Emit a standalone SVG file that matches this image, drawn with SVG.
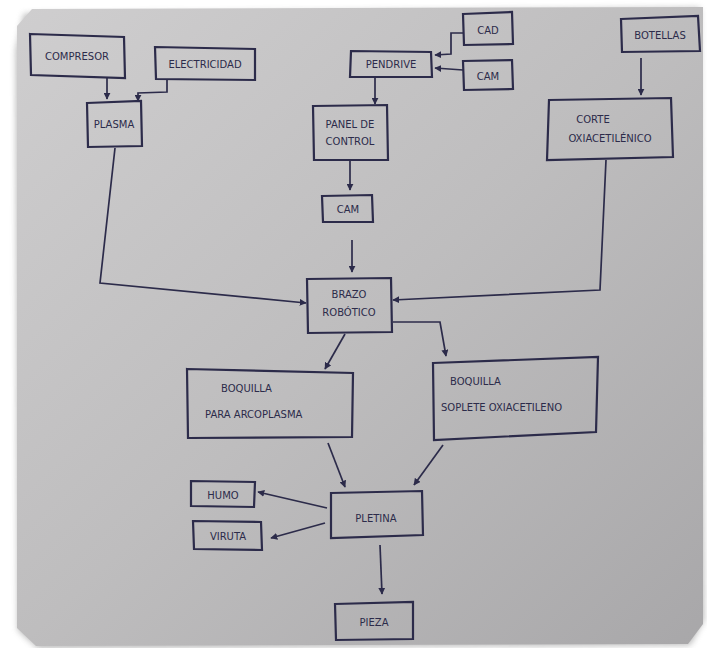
<svg xmlns="http://www.w3.org/2000/svg" width="707" height="648" viewBox="0 0 707 648">
<defs>
<linearGradient id="paper" x1="0" y1="0" x2="1" y2="1">
<stop offset="0" stop-color="#cfcecf"/>
<stop offset="0.5" stop-color="#bebdbe"/>
<stop offset="1" stop-color="#a8a7a9"/>
</linearGradient>
<filter id="sh" x="-5%" y="-5%" width="110%" height="110%">
<feGaussianBlur stdDeviation="3"/>
</filter>
<marker id="ah" viewBox="0 0 10 10" refX="9" refY="5" markerWidth="7" markerHeight="7" orient="auto-start-reverse" markerUnits="userSpaceOnUse">
<path d="M0,0 L10,5 L0,10 z" fill="#2c2b4a"/>
</marker>
</defs>
<style>
.box{fill:none;stroke:#2c2b4a;stroke-width:2.2}
.t{font-family:"DejaVu Sans",sans-serif;fill:#2c2b4a;font-size:10px}
.m{text-anchor:middle}
.s{text-anchor:start}
.c{fill:none;stroke:#2c2b4a;stroke-width:1.7;marker-end:url(#ah)}
</style>
<rect width="707" height="648" fill="#ffffff"/>
<path d="M24,14 L700,8 L704,620 L690,645 L38,648 L18,630 L16,50 Z" fill="#888" filter="url(#sh)" opacity="0.6"/>
<path d="M32,9 L703,7 L703,624 L688,644 L36,646 L17,628 L17,26 Z" fill="url(#paper)"/>

<g id="connectors">
<path class="c" d="M107,78 L107,99"/>
<path class="c" d="M167,80 L167,92 L138,93 L138,101"/>
<path class="c" d="M463,33 L451,33 L451,54 L435,55"/>
<path class="c" d="M463,70 L435,68"/>
<path class="c" d="M641,58 L641,95"/>
<path class="c" d="M375,77 L375,104"/>
<path class="c" d="M350,161 L350,190"/>
<path class="c" d="M352,240 L352,272"/>
<path class="c" d="M115,148 L100,283 L306,303"/>
<path class="c" d="M606,160 L600,290 L393,300"/>
<path class="c" d="M345,334 L325,369"/>
<path class="c" d="M393,322 L440,322 L446,356"/>
<path class="c" d="M328,443 L345,487"/>
<path class="c" d="M443,445 L414,485"/>
<path class="c" d="M327,508 L258,492"/>
<path class="c" d="M325,523 L271,538"/>
<path class="c" d="M380,545 L382,594"/>
</g>

<g id="compresor"><path class="box" d="M30,34 L124,37 L125,78 L31,75 Z"/><text class="t m" x="77" y="60">COMPRESOR</text></g>
<g id="electricidad"><path class="box" d="M155,47 L255,49 L255,80 L156,79 Z"/><text class="t m" x="205" y="68">ELECTRICIDAD</text></g>
<g id="plasma"><path class="box" d="M87,103 L141,101 L142,146 L88,147 Z"/><text class="t m" x="114" y="128" font-size="9">PLASMA</text></g>
<g id="pendrive"><path class="box" d="M351,51 L431,52 L432,77 L350,77 Z"/><text class="t m" x="391" y="68">PENDRIVE</text></g>
<g id="cad"><path class="box" d="M463,14 L512,12 L513,44 L464,45 Z"/><text class="t m" x="488" y="34" font-size="12">CAD</text></g>
<g id="cam-top"><path class="box" d="M463,61 L512,60 L513,89 L464,90 Z"/><text class="t m" x="488" y="80" font-size="12">CAM</text></g>
<g id="botellas"><path class="box" d="M621,19 L698,16 L700,51 L622,52 Z"/><text class="t m" x="660" y="39">BOTELLAS</text></g>
<g id="panel"><path class="box" d="M313,106 L387,105 L388,160 L314,160 Z"/><text class="t m" x="350" y="128" font-size="9">PANEL DE</text><text class="t m" x="350" y="145" font-size="9">CONTROL</text></g>
<g id="corte"><path class="box" d="M549,100 L671,98 L673,157 L547,160 Z"/><text class="t m" x="593" y="123" font-size="9">CORTE</text><text class="t m" x="610" y="142" font-size="9">OXIACETILÉNICO</text></g>
<g id="cam-mid"><path class="box" d="M322,196 L372,195 L373,222 L323,222 Z"/><text class="t m" x="348" y="213">CAM</text></g>
<g id="brazo"><path class="box" d="M307,279 L391,278 L392,332 L308,333 Z"/><text class="t m" x="349" y="298">BRAZO</text><text class="t m" x="349" y="316">ROBÓTICO</text></g>
<g id="boquilla-plasma"><path class="box" d="M187,369 L353,373 L352,437 L188,438 Z"/><text class="t s" x="221" y="392">BOQUILLA</text><text class="t s" x="205" y="418">PARA ARCOPLASMA</text></g>
<g id="boquilla-soplete"><path class="box" d="M433,363 L598,357 L596,432 L434,440 Z"/><text class="t s" x="450" y="385">BOQUILLA</text><text class="t s" x="441" y="411">SOPLETE OXIACETILENO</text></g>
<g id="pletina"><path class="box" d="M331,493 L422,491 L423,535 L331,538 Z"/><text class="t m" x="376" y="522" font-size="14">PLETINA</text></g>
<g id="humo"><path class="box" d="M191,481 L255,482 L254,507 L191,506 Z"/><text class="t m" x="223" y="499" font-size="11">HUMO</text></g>
<g id="viruta"><path class="box" d="M193,521 L261,522 L262,550 L194,549 Z"/><text class="t m" x="228" y="540" font-size="11">VIRUTA</text></g>
<g id="pieza"><path class="box" d="M335,604 L413,602 L413,639 L336,640 Z"/><text class="t m" x="374" y="626" font-size="12">PIEZA</text></g>
</svg>
